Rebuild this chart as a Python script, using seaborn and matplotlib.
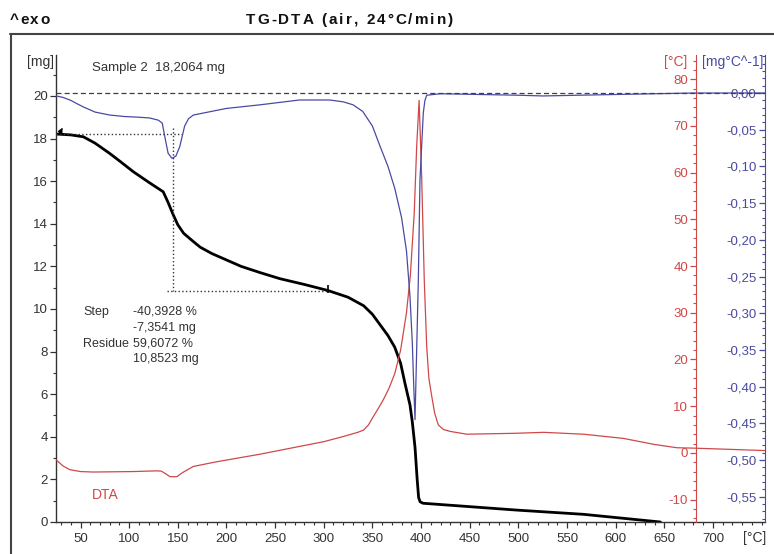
import matplotlib
matplotlib.use("Agg")
import matplotlib.pyplot as plt
import seaborn as sns
import numpy as np
import pandas as pd
from matplotlib.ticker import MultipleLocator, FuncFormatter, FixedLocator
from matplotlib.lines import Line2D

# ---------------- data ----------------
tg_temp = [25, 40, 53, 65, 80, 92, 104, 120, 135, 140, 145, 150, 156, 165, 173, 185, 200,
           215, 235, 255, 280, 304, 325, 341, 350, 358, 366, 373, 379, 383.5, 388.6, 391,
           393.8, 396, 397.5, 399, 402, 450, 498, 567, 646]
tg_mass = [18.21, 18.17, 18.08, 17.78, 17.3, 16.88, 16.45, 15.95, 15.5, 15.0, 14.45, 13.95,
           13.55, 13.2, 12.9, 12.6, 12.3, 12.0, 11.7, 11.42, 11.15, 10.87, 10.55, 10.15, 9.75,
           9.25, 8.75, 8.2, 7.45, 6.5, 5.5, 4.7, 3.5, 2.0, 1.15, 0.95, 0.88, 0.72, 0.56, 0.36,
           0.0]

dtg_temp = [25, 32, 40, 47, 53, 65, 80, 95, 110, 121, 130, 134, 137, 140, 144, 148, 152, 157,
            161, 166, 181, 200, 235, 275, 306, 320, 330, 340, 350, 358, 366, 373, 380, 385,
            388.6, 391, 392.5, 393.8, 397.2, 398.9, 402.3, 404, 405.8, 420, 500, 525, 600,
            680, 753]
dtg_val = [-0.004, -0.006, -0.010, -0.015, -0.019, -0.026, -0.030, -0.032, -0.033, -0.034,
           -0.037, -0.041, -0.062, -0.082, -0.089, -0.086, -0.073, -0.045, -0.035, -0.030,
           -0.026, -0.021, -0.016, -0.0095, -0.0095, -0.012, -0.016, -0.025, -0.045, -0.073,
           -0.100, -0.130, -0.170, -0.215, -0.277, -0.340, -0.400, -0.445, -0.255, -0.118,
           -0.027, -0.010, -0.003, -0.001, -0.003, -0.004, -0.002, 0.0, 0.0]

dta_temp = [25, 32, 39, 50, 63, 104, 128, 133, 137, 142, 149, 155, 166, 190, 234, 300, 320,
            335, 341, 346, 351, 356, 361, 367, 373, 379, 385, 389, 393, 395.5, 398, 400.7,
            403.3, 405.8, 408, 411, 414, 417.7, 423, 430, 447, 498, 526, 567, 608, 640, 663,
            683, 753]
dta_val = [-1.5, -2.8, -3.6, -4.0, -4.1, -4.0, -3.85, -3.9, -4.4, -5.1, -5.1, -4.2, -2.9,
           -1.9, -0.3, 2.4, 3.5, 4.4, 4.9, 6.0, 7.8, 9.5, 11.3, 13.8, 17.0, 22.0, 30.0, 38.0,
           51.4, 65.6, 75.5, 58.5, 37.0, 22.8, 16.0, 12.1, 8.5, 6.0, 5.0, 4.6, 4.0, 4.2, 4.4,
           4.0, 3.1, 1.8, 1.1, 1.0, 0.5]

# step evaluation values
step_start_mass = 18.2064
residue_mass = 10.8523
step_temp = 145
step_end_temp = 304

x_ticks = [50, 100, 150, 200, 250, 300, 350, 400, 450, 500, 550, 600, 650, 700]
mg_ticks = [0, 2, 4, 6, 8, 10, 12, 14, 16, 18, 20]
dta_ticks = [-10, 0, 10, 20, 30, 40, 50, 60, 70, 80]
dtg_ticks = [0.0, -0.05, -0.10, -0.15, -0.20, -0.25, -0.30, -0.35, -0.40, -0.45, -0.50, -0.55]

# ---------------- style ----------------
sns.set_style("ticks")
plt.rcParams["font.family"] = ["Liberation Sans", "DejaVu Sans"]
plt.rcParams["axes.unicode_minus"] = False

RED = "#d04848"
BLUE = "#4a4aa2"
GRAY = "#333333"

W, H = 774, 554
fig = plt.figure(figsize=(W / 100, H / 100), dpi=100)
fig.patch.set_facecolor("white")


def fx(px):
    return px / W


def fy(py):
    return 1 - py / H


ax = fig.add_axes([fx(56), fy(522), fx(765) - fx(56), fy(55) - fy(522)])
ax_r = ax.twinx()
ax_b = ax.twinx()

XMIN, XMAX = 24.8, 753.5
ax.set_xlim(XMIN, XMAX)
ax.set_ylim(0, 21.92)
ax_r.set_ylim(-14.8, 85.2)
ax_b.set_ylim(-0.5845, 0.0518)

# ---------------- curves ----------------
tg = pd.DataFrame({"T": tg_temp, "m": tg_mass})
dtg = pd.DataFrame({"T": dtg_temp, "v": dtg_val})
dta = pd.DataFrame({"T": dta_temp, "v": dta_val})

sns.lineplot(data=dta, x="T", y="v", ax=ax_r, color=RED, linewidth=0.9)
sns.lineplot(data=dtg, x="T", y="v", ax=ax_b, color=BLUE, linewidth=0.9)
sns.lineplot(data=tg, x="T", y="m", ax=ax, color="black", linewidth=2.0)

# zero line of DTG (dashed)
ax_b.axhline(0, color="#3c3c5a", linestyle=(0, (4, 2.5)), linewidth=0.9)

# step evaluation lines
ax.plot([XMIN, 154], [step_start_mass, step_start_mass], color=GRAY, linestyle=":", linewidth=1.0)
ax.plot([step_temp, step_temp], [18.5, residue_mass], color=GRAY, linestyle=":", linewidth=1.0)
ax.plot([139, step_end_temp], [residue_mass, residue_mass], color=GRAY, linestyle=":", linewidth=1.0)
ax.plot([step_end_temp], [residue_mass + 0.1], marker="|", color="black", markersize=6, markeredgewidth=1.2)
ax.plot([26.5], [step_start_mass + 0.15], marker=4, color="black", markersize=4)

for a in (ax, ax_r, ax_b):
    a.set_xlabel("")
    a.set_ylabel("")

# ---------------- axes / spines ----------------
for s in ("top", "right"):
    ax.spines[s].set_visible(False)
ax.spines["left"].set_color(GRAY)
ax.spines["bottom"].set_color(GRAY)
ax.spines["left"].set_linewidth(1.0)
ax.spines["bottom"].set_linewidth(1.0)

ax.xaxis.set_major_locator(FixedLocator(x_ticks))
ax.xaxis.set_minor_locator(MultipleLocator(10))
ax.yaxis.set_major_locator(FixedLocator(mg_ticks))
ax.yaxis.set_minor_locator(MultipleLocator(1))
ax.tick_params(axis="both", which="major", direction="out", length=4, width=0.9,
               color=GRAY, labelcolor=GRAY, labelsize=9.5, pad=2)
ax.tick_params(axis="x", which="major", pad=4)
ax.tick_params(axis="both", which="minor", direction="out", length=2.5, width=0.8, color=GRAY)

# red (DTA) axis
for s in ("top", "right", "bottom"):
    ax_r.spines[s].set_visible(False)
ax_r.spines["left"].set_visible(True)
ax_r.spines["left"].set_position(("data", 683))
ax_r.spines["left"].set_color(RED)
ax_r.yaxis.tick_left()
ax_r.yaxis.set_label_position("left")
ax_r.yaxis.set_major_locator(FixedLocator(dta_ticks))
ax_r.yaxis.set_minor_locator(MultipleLocator(2))
ax_r.tick_params(axis="y", which="major", direction="out", length=4, width=0.9,
                 color=RED, labelcolor=RED, labelsize=9.5, pad=2)
ax_r.tick_params(axis="y", which="minor", direction="out", length=2.5, width=0.8, color=RED)

# blue (DTG) axis
for s in ("top", "right", "bottom"):
    ax_b.spines[s].set_visible(False)
ax_b.spines["left"].set_visible(True)
ax_b.spines["left"].set_position(("axes", 1.0))
ax_b.spines["left"].set_color(BLUE)
ax_b.yaxis.tick_left()
ax_b.yaxis.set_label_position("left")
ax_b.yaxis.set_major_locator(FixedLocator(dtg_ticks))
ax_b.yaxis.set_minor_locator(MultipleLocator(0.01))
ax_b.yaxis.set_major_formatter(FuncFormatter(lambda v, p: f"{v:.2f}".replace(".", ",").replace("-0,00", "0,00")))
ax_b.tick_params(axis="y", which="major", direction="out", length=4, width=0.9,
                 color=BLUE, labelcolor=BLUE, labelsize=9.5, pad=2)
ax_b.tick_params(axis="y", which="minor", direction="out", length=2.5, width=0.8, color=BLUE)

# ---------------- texts ----------------
renderer = fig.canvas.get_renderer()


def spaced_text(x_left, y, s, gap_px, **kw):
    """Draw text character by character with extra letter spacing (pixel coords)."""
    x = x_left
    for ch in s:
        t = fig.text(fx(x), fy(y), ch, ha="left", va="center", **kw)
        w = t.get_window_extent(renderer=renderer).width
        if ch == " ":
            probe = fig.text(0, 0, "a a", **kw)
            probe2 = fig.text(0, 0, "aa", **kw)
            w = probe.get_window_extent(renderer=renderer).width - probe2.get_window_extent(renderer=renderer).width
            probe.remove()
            probe2.remove()
        x += w + gap_px


spaced_text(10, 20, "^exo", 1.5, fontsize=11, fontweight="bold", color="#111111")
spaced_text(246, 20, "TG-DTA (air, 24°C/min)", 2.0, fontsize=11, fontweight="bold", color="#111111")

fig.text(fx(54), fy(62), "[mg]", fontsize=10, ha="right", va="center", color=GRAY)
fig.text(fx(92), fy(68), "Sample 2  18,2064 mg", fontsize=9.5, ha="left", va="center", color=GRAY)
fig.text(fx(687), fy(62), "[°C]", fontsize=10, ha="right", va="center", color=RED)
fig.text(fx(702), fy(62), "[mg°C^-1]", fontsize=10, ha="left", va="center", color=BLUE)
fig.text(fx(755), fy(538), "[°C]", fontsize=10, ha="center", va="center", color=GRAY)

fs = 9
fig.text(fx(83), fy(312), "Step", fontsize=fs, ha="left", va="center", color=GRAY)
fig.text(fx(133), fy(312), "-40,3928 %", fontsize=fs, ha="left", va="center", color=GRAY)
fig.text(fx(133), fy(328), "-7,3541 mg", fontsize=fs, ha="left", va="center", color=GRAY)
fig.text(fx(83), fy(344), "Residue", fontsize=fs, ha="left", va="center", color=GRAY)
fig.text(fx(133), fy(344), "59,6072 %", fontsize=fs, ha="left", va="center", color=GRAY)
fig.text(fx(133), fy(359), "10,8523 mg", fontsize=fs, ha="left", va="center", color=GRAY)
fig.text(fx(92), fy(495), "DTA", fontsize=10, ha="left", va="center", color=RED)

# outer frame lines
fig.add_artist(Line2D([fx(10), 1.0], [fy(34), fy(34)], color="#444444", linewidth=1.5))
fig.add_artist(Line2D([fx(11), fx(11)], [fy(34), 0.0], color="#444444", linewidth=1.5))

fig.savefig("out.png", dpi=100)
